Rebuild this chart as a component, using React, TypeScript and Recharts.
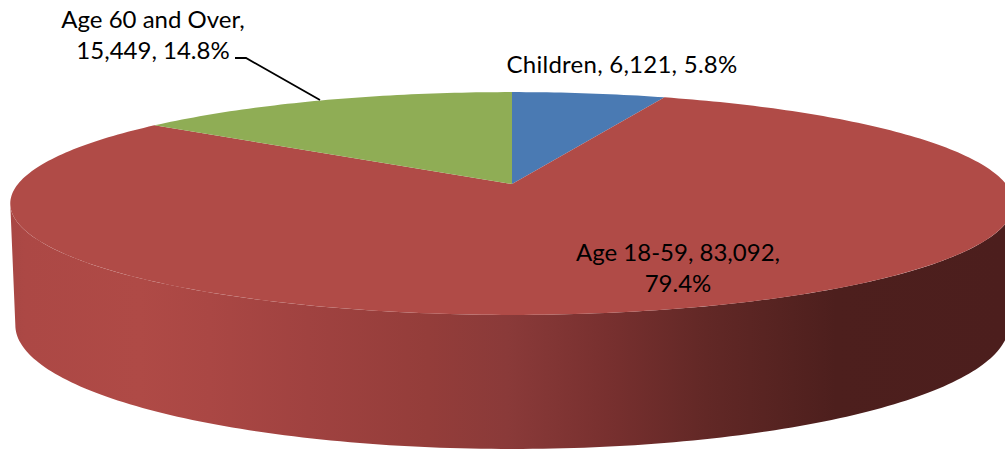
import { PieChart, Pie } from "recharts";

const categories = ["Children", "Age 18-59", "Age 60 and Over"];
const counts = [6121, 83092, 15449];
const percents = ["5.8%", "79.4%", "14.8%"];
const sliceColors = ["#4A7AB3", "#B04B47", "#8FAD55"];

// wrapped text of each data label, as in the original
const labelText = categories.map((name, i) => {
  const count = counts[i].toLocaleString("en-US");
  if (i === 1) return [`${name}, ${count},`, percents[i]];
  if (i === 2) return [`${name},`, `${count}, ${percents[i]}`];
  return [`${name}, ${count}, ${percents[i]}`];
});

const labelSpots = [
  { x: 622, y: 73, spacing: 0.25 },
  { x: 678, y: 261, spacing: 0 },
  { x: 153, y: 28, spacing: 0 },
];

const wallStops = [
  [0, "#A84744"],
  [0.015, "#AC4845"],
  [0.13, "#AF4A46"],
  [0.2, "#AA4744"],
  [0.3, "#A04240"],
  [0.42, "#943D3A"],
  [0.5, "#8A3A39"],
  [0.6, "#78302F"],
  [0.7, "#622826"],
  [0.83, "#4D1F1D"],
  [1, "#4C1E1D"],
];

const data = categories.map((name, i) => ({ name, value: counts[i], fill: sliceColors[i] }));

const W = 1005;
const H = 449;
const TILT = 0.175; // perspective of the disc, back edge looks smaller
const TOP = { rx: 494, ry: 108, dy: 0 };
const BOTTOM = { rx: 489, ry: 120, dy: 119.5 };
// where the rim turns away from the viewer, degrees below 3 and 9 o'clock
const SILHOUETTE = (Math.asin(TILT) * 180) / Math.PI;

type Face = typeof TOP;

// disc point for a recharts angle (90 = 12 o'clock, going clockwise as it falls)
const project = (cx: number, cy: number, deg: number, f: Face) => {
  const t = ((90 - deg) * Math.PI) / 180;
  const u = Math.sin(t);
  const v = Math.cos(t);
  const d = 1 + TILT * v;
  return [cx + (f.rx * u) / d, cy + f.dy - (f.ry * v) / d];
};

const arcPoints = (cx: number, cy: number, a0: number, a1: number, f: Face) => {
  const n = Math.max(2, Math.ceil(Math.abs(a1 - a0)));
  const pts: number[][] = [];
  for (let i = 0; i <= n; i++) pts.push(project(cx, cy, a0 + ((a1 - a0) * i) / n, f));
  return pts;
};

const toPath = (pts: number[][]) =>
  pts.map((p, i) => `${i ? "L" : "M"}${p[0].toFixed(2)} ${p[1].toFixed(2)}`).join(" ") + " Z";

const Slice3D = (props: any) => {
  const { cx, cy, startAngle, endAngle, fill } = props;
  // front wall: only the part of the slice facing the viewer
  const from = Math.max(endAngle, -180 + SILHOUETTE);
  const to = Math.min(startAngle, -SILHOUETTE);
  const hasWall = to > from;
  const top = arcPoints(cx, cy, startAngle, endAngle, TOP);
  return (
    <g>
      {hasWall && (
        <path
          d={toPath([
            ...arcPoints(cx, cy, to, from, TOP),
            ...arcPoints(cx, cy, from, to, BOTTOM),
          ])}
          fill="url(#wallShade)"
        />
      )}
      <path d={toPath([[cx, cy], ...top])} fill={fill} />
    </g>
  );
};

const renderLabel = (props: any) => {
  const i = props.index;
  const spot = labelSpots[i];
  return (
    <g key={categories[i]}>
      {i === 2 && <polyline points="235,58 246,58 320,100" fill="none" stroke="#000" strokeWidth={1.8} />}
      <text
        x={spot.x}
        y={spot.y}
        textAnchor="middle"
        fontFamily="Lato"
        fontSize={24}
        letterSpacing={spot.spacing}
        fill="#000"
      >
        {labelText[i].map((line, k) => (
          <tspan key={k} x={spot.x} dy={k ? 31 : 0}>
            {line}
          </tspan>
        ))}
      </text>
    </g>
  );
};

export default function App() {
  return (
    <div style={{ position: "absolute", left: 0, top: 0, width: W, height: H, overflow: "hidden", background: "#fff" }}>
      <PieChart width={W} height={H} margin={{ top: 0, right: 0, bottom: 0, left: 0 }}>
        <defs>
          <linearGradient id="wallShade" gradientUnits="userSpaceOnUse" x1={10} y1={0} x2={1005} y2={0}>
            {wallStops.map(([o, c]) => (
              <stop key={o as number} offset={o as number} stopColor={c as string} />
            ))}
          </linearGradient>
        </defs>
        <Pie
          data={data}
          dataKey="value"
          nameKey="name"
          cx={512}
          cy={184}
          outerRadius={100}
          startAngle={90}
          endAngle={-270}
          stroke="none"
          label={renderLabel}
          labelLine={false}
          isAnimationActive={false}
          shape={Slice3D}
        />
      </PieChart>
    </div>
  );
}
